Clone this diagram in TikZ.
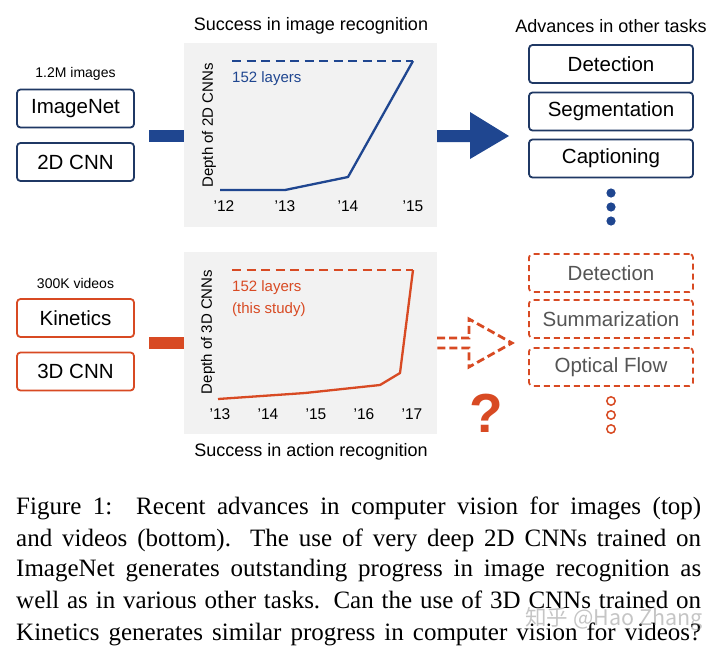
\documentclass[tikz,border=0pt]{standalone}
\usepackage{fontspec}
\setmainfont{Liberation Serif}
\setsansfont{Liberation Sans}
\newfontfamily\cjk{Noto Sans CJK SC}
\usetikzlibrary{calc}
\definecolor{cblue}{HTML}{1F4690}
\definecolor{corange}{HTML}{D84A23}
\definecolor{panelgray}{HTML}{F2F2F2}
\definecolor{boxline}{HTML}{1F3864}
\definecolor{dimtext}{HTML}{555555}
\tikzset{
  sbox/.style={draw=#1, line width=1.8pt, rounded corners=3.5pt, minimum width=117pt,
    minimum height=38pt, inner sep=0pt, font=\sffamily\fontsize{20.5}{24}\selectfont},
  tbox/.style={draw=#1, line width=1.8pt, rounded corners=3.5pt, minimum width=164pt,
    minimum height=38pt, inner sep=0pt, font=\sffamily\fontsize{20.5}{24}\selectfont},
  dbox/.style={draw=corange, dash pattern=on 6pt off 4pt, line width=1.8pt, rounded corners=3.5pt,
    minimum width=164pt, minimum height=38pt, inner sep=0pt, text=dimtext,
    font=\sffamily\fontsize{20.5}{24}\selectfont},
  panel/.style={fill=panelgray, inner sep=0pt, minimum width=253pt},
  title/.style={font=\sffamily\fontsize{18}{22}\selectfont, inner sep=0pt},
  small/.style={font=\sffamily\fontsize{14}{17}\selectfont, inner sep=0pt},
  tick/.style={font=\sffamily\fontsize{15.5}{18}\selectfont, inner sep=0pt},
  axlab/.style={font=\sffamily\fontsize{15}{18}\selectfont, inner sep=0pt, rotate=90},
  layl/.style={font=\sffamily\fontsize{15}{18}\selectfont, inner sep=0pt, anchor=west},
  curve/.style={line width=2.3pt, line join=round},
  hline/.style={line width=2.3pt, dash pattern=on 9pt off 5.5pt},
  capline/.style={anchor=base west, inner sep=0pt, font=\rmfamily\fontsize{25}{32}\selectfont},
}
\begin{document}
\begin{tikzpicture}[x=1pt,y=-1pt]
\useasboundingbox (0,0) rectangle (720,654);
\fill[white] (0,0) rectangle (720,654);

% ---------- top row ----------
\node[small] (imgs) at (75.5,74) {1.2M images};
\node[sbox=boxline] (imagenet) at (75.5,108.5) {ImageNet};
\node[sbox=boxline] (cnn2d) at (75.5,162) {2D CNN};

\node[panel, minimum height=184pt] (p1) at (310.5,135) {};
\node[title] (t1) at (311,26) {Success in image recognition};

\fill[cblue] (149,130) rectangle (p1.west |- 0,142);

\node[axlab] (ax1) at (209,125.5) {Depth of 2D CNNs};
\coordinate (a1) at (220,190);
\coordinate (a2) at (285,190);
\coordinate (a3) at (348,177);
\coordinate (a4) at (413,61);
\draw[cblue, hline] (232,61) -- (a4);
\draw[cblue, curve] (a1) -- (a2) -- (a3) -- (a4);
\node[layl, text=cblue] (l1) at (232,79) {152 layers};
\node[tick] (k12) at (224,206) {'12};
\node[tick] (k13) at (285,206) {'13};
\node[tick] (k14) at (348,206) {'14};
\node[tick] (k15) at (413,206) {'15};

\fill[cblue] (p1.east |- 0,130) -- (470,130) -- (470,112) -- (509,136) -- (470,159) -- (470,142) -- (p1.east |- 0,142) -- cycle;

\node[title] (t2) at (611,26) {Advances in other tasks};
\node[tbox=boxline] (det) at (611,64) {Detection};
\node[tbox=boxline] (seg) at (611,111.5) {Segmentation};
\node[tbox=boxline] (cap) at (611,158.5) {Captioning};
\fill[cblue] (611,193) circle (4.6);
\fill[cblue] (611,207) circle (4.6);
\fill[cblue] (611,221) circle (4.6);

% ---------- bottom row ----------
\node[small] (vids) at (75.5,283) {300K videos};
\node[sbox=corange] (kin) at (75.5,318) {Kinetics};
\node[sbox=corange] (cnn3d) at (75.5,371.5) {3D CNN};

\node[panel, minimum height=182pt] (p2) at (310.5,343) {};
\node[title] (t3) at (311,452) {Success in action recognition};

\fill[corange] (149,337) rectangle (p2.west |- 0,349);

\node[axlab] (ax2) at (208,332) {Depth of 3D CNNs};
\coordinate (b1) at (218,399);
\coordinate (b2) at (305,393);
\coordinate (b3) at (380,385);
\coordinate (b4) at (400,373);
\coordinate (b5) at (413,270);
\draw[corange, hline] (232,270) -- (b5);
\draw[corange, curve] (b1) -- (b2) -- (b3) -- (b4) -- (b5);
\node[layl, text=corange] (l2) at (232,288) {152 layers};
\node[layl, text=corange] (l3) at (232,310) {(this study)};
\node[tick] (m13) at (220,414) {'13};
\node[tick] (m14) at (268,414) {'14};
\node[tick] (m15) at (316,414) {'15};
\node[tick] (m16) at (364,414) {'16};
\node[tick] (m17) at (412,414) {'17};

\draw[corange, line width=2.8pt, dash pattern=on 8pt off 4pt, line join=miter]
  (p2.east |- 0,338) -- (469,338) -- (469,319) -- (512,343) -- (469,367) -- (469,348) -- (p2.east |- 0,348);
\node[text=corange, inner sep=0pt, font=\sffamily\bfseries\fontsize{55}{55}\selectfont] (q) at (486,413) {?};

\node[dbox] (det2) at (611,273) {Detection};
\node[dbox] (sum) at (611,319) {Summarization};
\node[dbox] (flow) at (611,367) {Optical Flow};
\draw[corange, line width=1.5pt] (611,401) circle (4.2);
\draw[corange, line width=1.5pt] (611,415) circle (4.2);
\draw[corange, line width=1.5pt] (611,429) circle (4.2);

% ---------- caption ----------
\node[capline] (c1) at (16,514) {\makebox[685pt][s]{Figure 1:\hspace{5pt} Recent advances in computer vision for images (top)}};
\node[capline] (c2) at (16,546) {\makebox[685pt][s]{and videos (bottom). The use of very deep 2D CNNs trained on}};
\node[capline] (c3) at (16,576) {\makebox[685pt][s]{ImageNet generates outstanding progress in image recognition as}};
\node[capline] (c4) at (16,608) {\makebox[685pt][s]{well as in various other tasks. Can the use of 3D CNNs trained on}};
\node[capline] (c5) at (16,640) {\makebox[685pt][s]{Kinetics generates similar progress in computer vision for videos?}};
\node[inner sep=0pt, text=gray, opacity=0.45, font=\cjk\fontsize{21.5}{24}\selectfont] (wm) at (614,619) {知乎 @Hao Zhang};
\end{tikzpicture}
\end{document}
